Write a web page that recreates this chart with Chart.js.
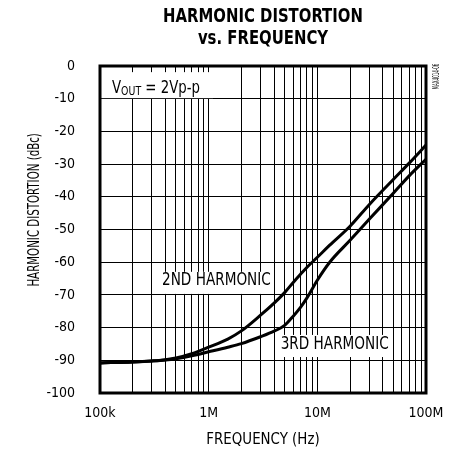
<!DOCTYPE html>
<html><head><meta charset="utf-8">
<script src="https://cdn.jsdelivr.net/npm/chart.js@4"></script>
<style>html,body{margin:0;padding:0;background:#fff}#wrap{width:458px;height:452px;position:relative}</style>
</head><body><div id="wrap"><canvas id="c" width="458" height="452"></canvas></div>
<script>
// ---- data ----
const frequencies    = [1e5, 2e5, 3e5, 4e5, 5e5, 7e5, 1e6, 1.5e6, 2e6, 3e6, 4e6, 5e6, 6e6, 7e6, 8e6, 1e7, 1.3e7, 2e7, 3e7, 5e7, 7e7, 1e8];
const secondHarmonic = [-90.8, -90.5, -90.2, -89.8, -89.3, -88.0, -86.0, -83.5, -81.0, -76.2, -72.5, -69.3, -66.2, -63.7, -61.6, -58.5, -54.8, -49.0, -42.4, -34.7, -29.7, -24.2];
const thirdHarmonic  = [-90.8, -90.5, -90.2, -89.9, -89.5, -88.6, -87.4, -86.0, -84.9, -82.8, -81.1, -79.3, -76.5, -73.8, -71.0, -65.5, -60.0, -53.3, -46.9, -38.9, -33.6, -28.5];
const decadeValues   = [1e5, 1e6, 1e7, 1e8];
const decadeLabels   = ['100k', '1M', '10M', '100M'];
const yMin = -100, yMax = 0, yStep = 10;

const FONT = "'Liberation Sans Narrow', 'Arial Narrow', 'DejaVu Sans Condensed', sans-serif";

const xGridValues = [];
decadeValues.forEach((d, i) => {
  if (i === decadeValues.length - 1) { xGridValues.push(d); return; }
  for (let m = 1; m <= 9; m++) xGridValues.push(d * m);
});

const toPts = ys => frequencies.map((f, i) => ({x: f, y: ys[i]}));

// draw horizontally condensed text (the reference uses a condensed face)
function condensed(ctx, txt, px, py, sx, align) {
  ctx.save();
  ctx.translate(px, py);
  ctx.scale(sx, 1);
  ctx.textAlign = align || 'left';
  ctx.fillText(txt, 0, 0);
  ctx.restore();
  return ctx.measureText(txt).width * sx;
}

const texts = {
  id: 'texts',
  beforeDatasetsDraw(chart) {
    const {ctx, scales: {x, y}} = chart;
    ctx.save();
    ctx.textBaseline = 'alphabetic';
    const label = (txt, fx, dy, size, sx) => {
      const px = x.getPixelForValue(fx), py = y.getPixelForValue(dy);
      ctx.font = size + 'px ' + FONT;
      const w = ctx.measureText(txt).width * sx;
      ctx.fillStyle = '#fff';
      ctx.fillRect(px - 2, py - size * 0.8, w + 4, size * 1.3);
      ctx.fillStyle = '#000';
      condensed(ctx, txt, px, py, sx);
    };
    label('2ND HARMONIC', 3.72e5, -67.1, 17, 0.89);
    label('3RD HARMONIC', 4.6e6, -86.4, 17, 0.89);
    // V_OUT = 2Vp-p
    const vx = x.getPixelForValue(1.29e5), vy = y.getPixelForValue(-8.3);
    ctx.fillStyle = '#fff';
    ctx.fillRect(chart.chartArea.left + 1, vy - 21, 112, 26);
    ctx.fillStyle = '#000';
    ctx.font = '17px ' + FONT;
    let cx = vx + condensed(ctx, 'V', vx, vy, 0.87);
    ctx.font = '12px ' + FONT;
    cx += condensed(ctx, 'OUT', cx, vy + 2, 0.87);
    ctx.font = '17px ' + FONT;
    condensed(ctx, ' = 2Vp-p', cx, vy, 0.87);
    ctx.restore();
  },
  afterDatasetsDraw(chart) {
    const {ctx, chartArea: a} = chart;
    ctx.save();
    ctx.strokeStyle = '#000';
    ctx.lineWidth = 3;
    ctx.strokeRect(a.left, a.top, a.right - a.left, a.bottom - a.top);
    ctx.restore();
  },
  afterDraw(chart) {
    const {ctx, chartArea: a, scales: {y}} = chart;
    const cx = (a.left + a.right) / 2;
    ctx.save();
    ctx.fillStyle = '#000';
    ctx.textBaseline = 'alphabetic';
    ctx.font = 'bold 19px ' + FONT;
    condensed(ctx, 'HARMONIC DISTORTION', cx, 21.5, 0.87, 'center');
    condensed(ctx, 'vs. FREQUENCY', cx, 43.5, 0.87, 'center');
    ctx.font = '16px ' + FONT;
    ctx.textBaseline = 'middle';
    condensed(ctx, 'FREQUENCY (Hz)', cx, 440, 0.93, 'center');
    ctx.save();
    ctx.translate(35, y.getPixelForValue(-44));
    ctx.rotate(-Math.PI / 2);
    ctx.font = '15px ' + FONT;
    condensed(ctx, 'HARMONIC DISTORTION (dBc)', 0, 0, 0.76, 'center');
    ctx.restore();
    ctx.save();
    ctx.translate(a.right + 11, a.top + 10.5);
    ctx.rotate(-Math.PI / 2);
    ctx.font = '8px ' + FONT;
    condensed(ctx, 'MAX4014-06', 0, 0, 0.56, 'center');
    ctx.restore();
    ctx.restore();
  }
};

new Chart(document.getElementById('c'), {
  type: 'line',
  data: {
    datasets: [
      {label: '2ND HARMONIC', data: toPts(secondHarmonic), borderColor: '#000', borderWidth: 3, pointRadius: 0, cubicInterpolationMode: 'monotone', fill: false},
      {label: '3RD HARMONIC', data: toPts(thirdHarmonic), borderColor: '#000', borderWidth: 3, pointRadius: 0, cubicInterpolationMode: 'monotone', fill: false}
    ]
  },
  options: {
    responsive: false,
    animation: false,
    devicePixelRatio: 1,
    layout: {padding: {top: 66, right: 32, left: 0, bottom: 0}},
    plugins: {legend: {display: false}, title: {display: false}, tooltip: {enabled: false}},
    scales: {
      x: {
        type: 'logarithmic', min: 1e5, max: 1e8,
        afterBuildTicks: s => { s.ticks = xGridValues.map(v => ({value: v})); },
        afterFit: s => { s.height = 59; },
        grid: {color: '#000', lineWidth: 1, drawTicks: false},
        border: {display: false},
        ticks: {
          autoSkip: false, maxRotation: 0, padding: 12, color: '#000',
          font: {family: FONT, size: 14},
          callback: v => { const i = decadeValues.indexOf(v); return i >= 0 ? decadeLabels[i] : ''; }
        }
      },
      y: {
        type: 'linear', min: yMin, max: yMax,
        afterFit: s => { s.width = 100; },
        grid: {color: '#000', lineWidth: 1, drawTicks: false},
        border: {display: false},
        ticks: {stepSize: yStep, padding: 25, color: '#000', font: {family: FONT, size: 14}}
      }
    }
  },
  plugins: [texts]
});
</script></body></html>
